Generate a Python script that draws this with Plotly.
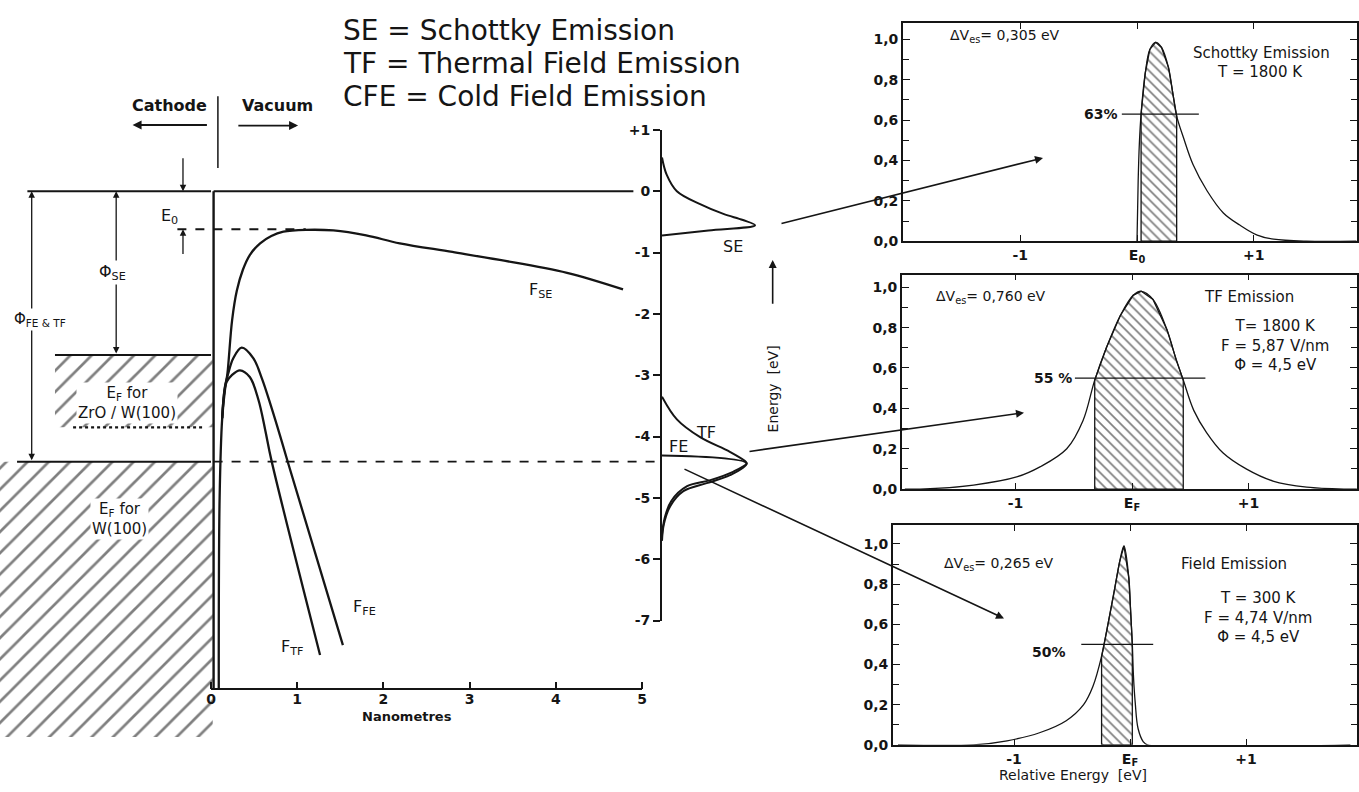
import plotly.graph_objects as go

W, H = 1359, 792
INK = "#151515"
FONT = "DejaVu Sans"


def fx(p):
    """pixel column -> paper x"""
    return p / W


def fy(p):
    """pixel row -> paper y"""
    return 1 - p / H


def span(lo_px, hi_px, zero_px, px_per_unit, flip=False):
    if flip:
        return [(zero_px - hi_px) / px_per_unit, (zero_px - lo_px) / px_per_unit]
    return [(lo_px - zero_px) / px_per_unit, (hi_px - zero_px) / px_per_unit]


# ---------------- energy-level diagram: distance (nm) / energy (eV)
vacuum_level = 0.0
e0_level = -0.62
ef_zro = -2.67
ef_w = -4.41
zro_band_bottom = -3.85
nm_axis_level = -8.115
nm_ticks = [0, 1, 2, 3, 4, 5]

fse_nm = [0.09, 0.10, 0.13, 0.165, 0.19, 0.245, 0.30, 0.37, 0.45, 0.57, 0.70, 0.84, 1.10,
          1.42, 1.80, 2.19, 2.80, 3.35, 4.13, 4.78]
fse_ev = [-8.10, -5.00, -3.70, -3.20, -2.98, -2.10, -1.62, -1.28, -1.04, -0.85, -0.73, -0.66,
          -0.63, -0.64, -0.72, -0.85, -0.99, -1.12, -1.33, -1.60]

ffe_nm = [0.13, 0.16, 0.20, 0.26, 0.356, 0.49, 0.59, 0.70, 0.80, 0.89, 1.53]
ffe_ev = [-3.70, -3.20, -2.97, -2.72, -2.55, -2.72, -3.05, -3.52, -3.98, -4.41, -7.40]

ftf_nm = [0.13, 0.18, 0.24, 0.336, 0.45, 0.55, 0.63, 0.70, 1.265]
ftf_ev = [-3.70, -3.11, -3.00, -2.92, -3.03, -3.40, -3.90, -4.38, -7.56]

# ---------------- energy distributions on the central energy axis
energy_ticks = [1, 0, -1, -2, -3, -4, -5, -6, -7]
se_dist_ev = [0.55, 0.27, 0.00, -0.21, -0.37, -0.47, -0.555, -0.64, -0.724]
se_dist_i = [0.00, 0.05, 0.16, 0.41, 0.66, 0.87, 1.00, 0.50, 0.00]
tf_dist_ev = [-3.35, -3.72, -4.01, -4.25, -4.41, -4.44, -4.57, -4.71, -4.81, -5.05, -5.32, -5.59]
tf_dist_i = [0.00, 0.16, 0.41, 0.73, 0.90, 0.91, 0.77, 0.52, 0.27, 0.10, 0.03, 0.00]
fe_dist_ev = [-4.31, -4.44, -4.63, -4.76, -4.89, -5.13, -5.43, -5.70]
fe_dist_i = [0.00, 0.91, 0.73, 0.48, 0.23, 0.09, 0.02, 0.00]

# ---------------- normalised energy distributions (relative energy in eV)
se_x = [0.0, 0.01, 0.02, 0.035, 0.07, 0.11, 0.16, 0.21, 0.27, 0.31, 0.34, 0.40, 0.48, 0.60,
        0.74, 0.88, 1.03, 1.17, 1.45, 1.88]
se_y = [0.0, 0.30, 0.48, 0.63, 0.83, 0.95, 0.985, 0.96, 0.86, 0.72, 0.62, 0.51, 0.38, 0.25,
        0.14, 0.08, 0.03, 0.01, 0.0, 0.0]
se_dv, se_lo, se_level, se_pct = 0.305, 0.035, 0.63, "63%"

tf_x = [-1.95, -1.82, -1.36, -0.99, -0.79, -0.56, -0.42, -0.32, -0.22, -0.10, 0.01, 0.08,
        0.18, 0.30, 0.38, 0.44, 0.53, 0.64, 0.78, 0.98, 1.21, 1.50, 1.84, 1.93]
tf_y = [0.0, 0.0, 0.02, 0.06, 0.11, 0.20, 0.34, 0.54, 0.70, 0.86, 0.96, 0.98, 0.94, 0.79,
        0.64, 0.54, 0.39, 0.28, 0.18, 0.10, 0.04, 0.01, 0.0, 0.0]
tf_dv, tf_lo, tf_level, tf_pct = 0.760, -0.32, 0.55, "55 %"

fe_x = [-2.0, -1.35, -1.06, -0.78, -0.55, -0.40, -0.32, -0.245, -0.20, -0.14, -0.09, -0.052,
        -0.01, 0.005, 0.02, 0.03, 0.045, 0.07, 0.115, 0.15, 1.9]
fe_y = [0.0, 0.0, 0.02, 0.06, 0.12, 0.20, 0.29, 0.44, 0.57, 0.75, 0.91, 0.99, 0.83, 0.67,
        0.50, 0.34, 0.21, 0.08, 0.015, 0.0, 0.0]
fe_dv, fe_lo, fe_level, fe_pct = 0.265, -0.245, 0.50, "50%"

rel_ticks = [-1, 0, 1]
frac_ticks = [0.0, 0.2, 0.4, 0.6, 0.8, 1.0]

fig = go.Figure()


def line(x, y, xa, ya, width=2.0, dash="solid", shape="linear"):
    fig.add_trace(go.Scatter(x=x, y=y, xaxis=xa, yaxis=ya, mode="lines",
                             line=dict(color=INK, width=width, dash=dash, shape=shape),
                             hoverinfo="skip", showlegend=False))


def hatch(x, y, xa, ya, shape, size, solidity, border=0):
    fig.add_trace(go.Scatter(x=x, y=y, xaxis=xa, yaxis=ya, mode="lines", fill="toself",
                             fillcolor="rgba(0,0,0,0)",
                             fillpattern=dict(shape=shape, size=size, solidity=solidity,
                                              fgcolor="#000000", bgcolor="rgba(255,255,255,0)"),
                             line=dict(color=INK, width=border),
                             hoverinfo="skip", showlegend=False))


# ---- diagram: cathode side
hatch([-2.32, 0.02, 0.02, -2.45, -2.45], [ef_w, ef_w, -8.9, -8.9, ef_w], "x", "y", "/", 15, 0.18)
hatch([-1.81, 0.02, 0.02, -1.81], [ef_zro, ef_zro, zro_band_bottom, zro_band_bottom],
      "x", "y", "/", 15, 0.18)
line([-2.13, 0.0], [vacuum_level, vacuum_level], "x", "y")
line([-1.81, 0.0], [ef_zro, ef_zro], "x", "y")
line([-1.6, -0.1], [zro_band_bottom, zro_band_bottom], "x", "y", width=2.2, dash="dot")
line([-2.25, 0.0], [ef_w, ef_w], "x", "y")
# ---- diagram: vacuum side
line([0.03, 0.03], [vacuum_level, nm_axis_level], "x", "y", width=2.4)
line([0.03, 4.9], [vacuum_level, vacuum_level], "x", "y")
line([0.03, 5.232], [ef_w, ef_w], "x", "y", width=1.8, dash="dash")
line([-0.39, 1.1], [e0_level, e0_level], "x", "y", width=1.8, dash="dash")
line([nm_ticks[0], nm_ticks[-1]], [nm_axis_level, nm_axis_level], "x", "y", width=2)
line([0.08, 0.08], [1.55, 0.38], "x", "y", width=1.5)
line(fse_nm, fse_ev, "x", "y", width=2.3, shape="spline")
line(ffe_nm, ffe_ev, "x", "y", width=2.3, shape="spline")
line(ftf_nm, ftf_ev, "x", "y", width=2.3, shape="spline")

# ---- central energy axis with emission distributions
line(se_dist_i, se_dist_ev, "x2", "y2", width=2.0, shape="spline")
line(tf_dist_i, tf_dist_ev, "x2", "y2", width=2.0, shape="spline")
line(fe_dist_i, fe_dist_ev, "x2", "y2", width=2.0, shape="spline")


# ---- right-hand panels
def panel(xs, ys, dv, lo, level, level_span, xa, ya):
    hi = round(lo + dv, 4)
    inside = [(a, b) for a, b in zip(xs, ys) if lo - 1e-9 <= a <= hi + 1e-9]
    hx = [lo] + [p[0] for p in inside] + [hi, lo]
    hy = [0.0] + [p[1] for p in inside] + [0.0, 0.0]
    hatch(hx, hy, xa, ya, "\\", 7, 0.24, border=1.3)
    line(xs, ys, xa, ya, width=1.3, shape="spline")
    line(level_span, [level, level], xa, ya, width=1.3)


panel(se_x, se_y, se_dv, se_lo, se_level, [-0.13, 0.53], "x3", "y3")
panel(tf_x, tf_y, tf_dv, tf_lo, tf_level, [-0.49, 0.63], "x4", "y4")
panel(fe_x, fe_y, fe_dv, fe_lo, fe_level, [-0.42, 0.20], "x5", "y5")

# ---------------- axes
tick_font = dict(family=FONT, size=14, color=INK, weight="bold")
left_x_range = span(0, 662, 211, 86.2)
left_y_range = span(80, 745, 187, 62.6, flip=True)

layout_axes = dict(
    xaxis=dict(domain=[0, fx(662)], range=left_x_range, anchor="free", position=fy(695),
               showline=False, showgrid=False, zeroline=False, ticks="inside", ticklen=7,
               tickwidth=1.6, tickcolor=INK, tickvals=nm_ticks,
               ticktext=[str(v) for v in nm_ticks], tickfont=tick_font),
    yaxis=dict(domain=[fy(745), fy(80)], range=left_y_range, visible=False, anchor="x"),
    xaxis2=dict(domain=[fx(662), fx(780)], range=[0, 118 / 93], visible=False, anchor="y2"),
    yaxis2=dict(domain=[fy(625.2), fy(124.4)], range=[-7, 1], anchor="x2", side="left",
                showline=True, linewidth=2, linecolor=INK, showgrid=False, zeroline=False,
                ticks="outside", ticklen=7, tickwidth=1.6, tickcolor=INK,
                tickvals=energy_ticks,
                ticktext=[("+%d" % v) if v > 0 else str(v) for v in energy_ticks],
                tickfont=tick_font),
)

panel_specs = [
    ("3", (903, 1357), (15, 238), (1137, 116.7), 206, "E<sub>0</sub>"),
    ("4", (902, 1357), (272, 491), (1132, 116.5), 206, "E<sub>F</sub>"),
    ("5", (893, 1357), (528, 752), (1130, 116.0), 205, "E<sub>F</sub>"),
]
for n, (x0, x1), (y0, y1), (zero, scale), yscale, zero_label in panel_specs:
    layout_axes["xaxis" + n] = dict(
        domain=[fx(x0), fx(x1)], range=span(x0, x1, zero, scale), anchor="y" + n,
        showline=True, linewidth=1.8, linecolor=INK, mirror="allticks", showgrid=False,
        zeroline=False, ticks="inside", ticklen=6, tickwidth=1.4, tickcolor=INK,
        tickvals=rel_ticks, ticktext=["-1", zero_label, "+1"], tickfont=tick_font)
    layout_axes["yaxis" + n] = dict(
        domain=[fy(y1), fy(y0)], range=[0, (y1 - y0) / yscale], anchor="x" + n,
        showline=True, linewidth=1.8, linecolor=INK, mirror="allticks", showgrid=False,
        zeroline=False, ticks="inside", ticklen=7, tickwidth=1.4, tickcolor=INK,
        tickvals=frac_ticks, ticktext=[("%.1f" % v).replace(".", ",") for v in frac_ticks],
        tickfont=tick_font,
        minor=dict(dtick=0.1, tick0=0, ticks="inside", ticklen=6, tickwidth=1.1,
                   tickcolor=INK))

# ---------------- text and arrows
ann = []


def note(text, x, y, xref="paper", yref="paper", size=15, xanchor="center", yanchor="middle",
         bg=None, angle=0, weight="normal"):
    d = dict(text=text, x=x, y=y, xref=xref, yref=yref, showarrow=False,
             font=dict(family=FONT, size=size, color=INK, weight=weight),
             xanchor=xanchor, yanchor=yanchor, textangle=angle)
    if bg:
        d["bgcolor"] = bg
    ann.append(d)


def arrow(x0, y0, x1, y1, xref, yref, width=1.6, side="end", head=2, size=1.0):
    ann.append(dict(text="", x=x1, y=y1, ax=x0, ay=y0, xref=xref, yref=yref,
                    axref=xref, ayref=yref, showarrow=True, arrowhead=head, arrowsize=size,
                    arrowwidth=width, arrowcolor=INK, arrowside=side, startarrowhead=head,
                    startarrowsize=size))


def arrow_px(x0, y0, x1, y1, width=1.6):
    ann.append(dict(text="", x=fx(x1), y=fy(y1), ax=x0 - x1, ay=y0 - y1, xref="paper",
                    yref="paper", axref="pixel", ayref="pixel", showarrow=True, arrowhead=2,
                    arrowsize=1.0, arrowwidth=width, arrowcolor=INK))


# headline
note("SE = Schottky Emission", fx(341), fy(23), size=28, xanchor="left")
note("TF = Thermal Field Emission", fx(341), fy(57), size=28, xanchor="left")
note("CFE = Cold Field Emission", fx(341), fy(90), size=28, xanchor="left")

# diagram labels
note("Cathode", -0.48, 1.39, "x", "y", size=16, weight="bold")
note("Vacuum", 0.77, 1.39, "x", "y", size=16, weight="bold")
arrow(-0.03, 1.08, -0.91, 1.08, "x", "y", width=1.8)
arrow(0.30, 1.07, 1.01, 1.07, "x", "y", width=1.8)
arrow(-0.325, 0.56, -0.325, vacuum_level, "x", "y", width=1.3)
arrow(-0.325, -1.05, -0.325, e0_level, "x", "y", width=1.3)
note("E<sub>0</sub>", -0.48, -0.42, "x", "y", size=16)
arrow(-1.10, ef_zro, -1.10, vacuum_level, "x", "y", width=1.3, side="end+start")
note("Φ<sub>SE</sub>", -1.14, -1.33, "x", "y", size=16, bg="white")
arrow(-2.08, ef_w, -2.08, vacuum_level, "x", "y", width=1.3, side="end+start")
note("Φ<sub>FE & TF</sub>", -1.98, -2.09, "x", "y", size=15, bg="white")
note("E<sub>F</sub> for<br>ZrO / W(100)", -0.97, -3.45, "x", "y", size=15, bg="white")
note("E<sub>F</sub> for<br>W(100)", -1.06, -5.35, "x", "y", size=15, bg="white")
note("F<sub>SE</sub>", 3.82, -1.62, "x", "y", size=16)
note("F<sub>FE</sub>", 1.78, -6.79, "x", "y", size=16)
note("F<sub>TF</sub>", 0.94, -7.44, "x", "y", size=16)
note("Nanometres", 2.27, -8.57, "x", "y", size=13, weight="bold")

# central axis labels
note("SE", 0.76, -0.90, "x2", "y2", size=16)
note("TF", 0.47, -3.93, "x2", "y2", size=16)
note("FE", 0.18, -4.17, "x2", "y2", size=16)
note("Energy  [eV]", 1.19, -3.22, "x2", "y2", size=14, angle=-90)
arrow(1.19, -1.86, 1.19, -1.12, "x2", "y2", width=1.6)

# links from the central axis to the panels
arrow_px(780, 219, 1043, 153)
arrow_px(748, 452, 1024, 413)
arrow_px(683, 473, 1004, 623)

# panel texts
note("ΔV<sub>es</sub>= 0,%03d eV" % round(se_dv * 1000), -1.62, 1.015, "x3", "y3", size=14,
     xanchor="left")
note("Schottky Emission", 1.07, 0.93, "x3", "y3", size=15)
note("T = 1800 K", 1.05, 0.84, "x3", "y3", size=15)
note(se_pct, -0.15, se_level, "x3", "y3", size=14, xanchor="right", weight="bold")

note("ΔV<sub>es</sub>= 0,%03d eV" % round(tf_dv * 1000), -1.70, 0.95, "x4", "y4", size=14,
     xanchor="left")
note("TF Emission", 0.60, 0.95, "x4", "y4", size=15, xanchor="left")
note("T= 1800 K<br>F = 5,87 V/nm<br>Φ = 4,5 eV", 0.75, 0.71, "x4", "y4", size=15,
     xanchor="left")
note(tf_pct, -0.50, tf_level, "x4", "y4", size=14, xanchor="right", weight="bold")

note("ΔV<sub>es</sub>= 0,%03d eV" % round(fe_dv * 1000), -1.62, 0.90, "x5", "y5", size=14,
     xanchor="left")
note("Field Emission", 0.42, 0.90, "x5", "y5", size=15, xanchor="left")
note("T = 300 K<br>F = 4,74 V/nm<br>Φ = 4,5 eV", 0.62, 0.635, "x5", "y5", size=15,
     xanchor="left")
note(fe_pct, -0.70, 0.46, "x5", "y5", size=14, weight="bold")
note("Relative Energy  [eV]", fx(1073), fy(783), size=14)

fig.update_layout(
    width=W, height=H, margin=dict(l=0, r=0, t=0, b=0),
    paper_bgcolor="white", plot_bgcolor="rgba(0,0,0,0)",
    showlegend=False, annotations=ann, font=dict(family=FONT, color=INK),
    **layout_axes,
)

fig.write_html("out.html")
